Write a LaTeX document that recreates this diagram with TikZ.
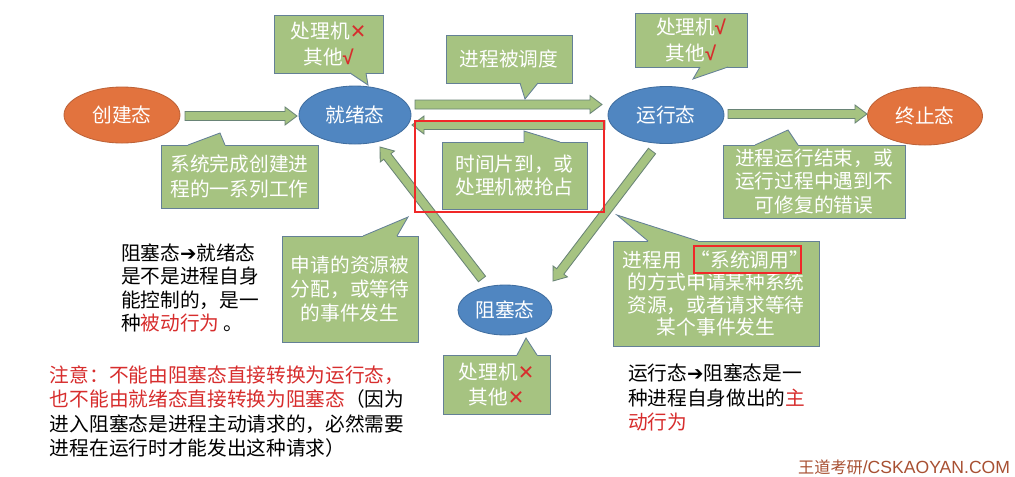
\documentclass[tikz,border=0pt]{standalone}
\usepackage{fontspec}
\setmainfont{Noto Sans CJK SC}
\newfontfamily\dejavu{DejaVu Sans}
\newfontfamily\libsans{Liberation Sans}
\usetikzlibrary{shapes.geometric,calc}
\definecolor{calgreen}{RGB}{166,195,129}
\definecolor{calborder}{RGB}{100,128,150}
\definecolor{arrgreen}{RGB}{166,195,129}
\definecolor{arrborder}{RGB}{105,132,118}
\definecolor{stblue}{RGB}{80,134,193}
\definecolor{stblueb}{RGB}{64,110,160}
\definecolor{storange}{RGB}{226,115,62}
\definecolor{storangeb}{RGB}{190,98,55}
\definecolor{txtred}{RGB}{215,45,45}
\definecolor{boxred}{RGB}{240,40,40}
\definecolor{wmark}{RGB}{168,80,50}
\newcommand\pxu{0.025cm}
\newcommand\txtfont{\fontsize{14pt}{16.8pt}\selectfont}
\newcommand\redx{{\dejavu\color{txtred}✕}}
\newcommand\redv{{\libsans\bfseries\color{txtred}√}}
\newcommand\blockarr[2]{%
  \coordinate (bac) at ($(#2)!12*\pxu!(#1)$);
  \draw[blockarrow] ($(#1)!4.5*\pxu!90:(#2)$) -- ($(bac)!4.5*\pxu!90:(#2)$)
    -- ($(bac)!9*\pxu!90:(#2)$) -- (#2) -- ($(bac)!9*\pxu!-90:(#2)$)
    -- ($(bac)!4.5*\pxu!-90:(#2)$) -- ($(#1)!4.5*\pxu!-90:(#2)$) -- cycle;}
\newcommand\pointer[4]{%
  \fill[calgreen] (#1) -- (#2) -- (#3) -- ($(#3)+(0,#4)$) -- ($(#1)+(0,#4)$) -- cycle;
  \draw[calborder, line width=0.6pt, line join=miter] (#1) -- (#2) -- (#3);}
\begin{document}
\begin{tikzpicture}[x=0.025cm,y=-0.025cm,
  every node/.style={inner sep=0pt, outer sep=0pt, font=\txtfont},
  bluestate/.style={ellipse, draw=stblueb, fill=stblue, line width=0.6pt, text=white},
  orangestate/.style={ellipse, draw=storangeb, fill=storange, line width=0.6pt, text=white},
  callbox/.style={rectangle, fill=calgreen, draw=calborder, line width=0.6pt, text=white, align=center},
  blockarrow/.style={fill=arrgreen, draw=arrborder, line width=0.6pt, line join=miter},
  plaintext/.style={anchor=west, align=left, text=black}]
\fill[white] (0,0) rectangle (1015,476);
\useasboundingbox (0,0) rectangle (1015,476);

% states
\node[orangestate, minimum width=116*\pxu, minimum height=56*\pxu] (cj) at (122,115) {创建态};
\node[bluestate, minimum width=112*\pxu, minimum height=58*\pxu] (jx) at (355,115) {就绪态};
\node[bluestate, minimum width=116*\pxu, minimum height=57*\pxu] (yx) at (666,115) {运行态};
\node[orangestate, minimum width=115*\pxu, minimum height=58*\pxu] (zz) at (925,116) {终止态};
\node[bluestate, minimum width=94*\pxu, minimum height=50*\pxu] (zs) at (505,310) {阻塞态};

% arrow end points
\coordinate (a1s) at ($(cj.east)+(5,1)$);
\coordinate (a1e) at ($(jx.west)+(-2,1)$);
\coordinate (a2s) at ($(jx.east)+(4,-10.5)$);
\coordinate (a2e) at ($(yx.west)+(-6,-10.5)$);
\coordinate (a3s) at ($(yx.west)+(-3,10)$);
\coordinate (a3e) at ($(jx.east)+(1,10)$);
\coordinate (a4s) at ($(yx.east)+(4,-1)$);
\coordinate (a4e) at ($(zz.west)+(-0.5,-2)$);
\coordinate (a5s) at ($(zs.center)+(-23,-31)$);
\coordinate (a5e) at ($(jx.center)+(25,32)$);
\coordinate (a6s) at ($(yx.center)+(-14,36)$);
\coordinate (a6e) at ($(zs.center)+(48,-29)$);

\blockarr{a1s}{a1e}
\blockarr{a2s}{a2e}
\blockarr{a3s}{a3e}
\blockarr{a4s}{a4e}
\blockarr{a5s}{a5e}
\blockarr{a6s}{a6e}

% callouts
\node[callbox, minimum width=109*\pxu, minimum height=58*\pxu, font=\fontsize{14pt}{19pt}\selectfont] (ca) at (328.5,44) {处理机\redx\\其他\redv};
\pointer{350,73}{368,85}{366,73}{-1.5}
\node[callbox, minimum width=126*\pxu, minimum height=48*\pxu] (cb) at (509,59) {进程被调度};
\pointer{520,83}{525,99}{538,83}{-1.5}
\node[callbox, minimum width=112*\pxu, minimum height=54*\pxu, font=\fontsize{14pt}{18.5pt}\selectfont] (cc) at (691,40) {处理机\redv\\其他\redv};
\pointer{700,67}{693,79}{728,67}{-1.5}
\node[callbox, minimum width=145*\pxu, minimum height=67*\pxu] (cd) at (514.5,175.5) {时间片到，或\\处理机被抢占};
\pointer{524,142}{524,131}{560,142}{1.5}
\node[callbox, minimum width=157*\pxu, minimum height=63*\pxu, font=\fontsize{14pt}{18pt}\selectfont] (ce) at (239.5,176.5) {系统完成创建进\\程的一系列工作};
\pointer{188,145}{220,133}{225,145}{1.5}
\node[callbox, minimum width=182*\pxu, minimum height=73*\pxu] (cf) at (814,181.5) {进程运行结束，或\\运行过程中遇到不\\可修复的错误};
\pointer{755,145}{788,130}{798,145}{1.5}
\node[callbox, minimum width=136*\pxu, minimum height=106*\pxu, font=\fontsize{14pt}{17pt}\selectfont] (cg) at (350,289) {申请的资源被\\分配，或等待\\的事件发生};
\pointer{363,236}{408,217}{397,236}{1.5}
\node[callbox, minimum width=107*\pxu, minimum height=59*\pxu, font=\fontsize{14pt}{17.8pt}\selectfont] (ch) at (496.5,384.5) {处理机\redx\\其他\redx};
\pointer{517,355}{526,338}{537,355}{1.5}
\node[callbox, minimum width=206*\pxu, minimum height=105*\pxu, font=\fontsize{14pt}{15.8pt}\selectfont] (ci) at (716,293.5) {进程用\hspace{0.45em}“系统调用”\hspace{0.45em}\\的方式申请某种系统\\资源，或者请求等待\\某个事件发生};
\pointer{648,241}{617,215}{698,241}{1.5}

% red highlight boxes
\draw[boxred, line width=2.1pt] (415,121) rectangle (604,212);
\draw[boxred, line width=1.4pt] (694,246) rectangle (801,273);

% plain texts
\node[plaintext, font=\fontsize{14pt}{16.6pt}\selectfont] (t1) at (121,288) {阻塞态{\dejavu\bfseries ➔}就绪态\\是不是进程自身\\能控制的，是一\\种\textcolor{txtred}{被动行为} 。};
\node[plaintext, font=\fontsize{14pt}{17.3pt}\selectfont] (t2) at (50,411.5) {\textcolor{txtred}{注意：不能由阻塞态直接转换为运行态，}\\\textcolor{txtred}{也不能由就绪态直接转换为阻塞态}（因为\\进入阻塞态是进程主动请求的，必然需要\\进程在运行时才能发出这种请求）};
\node[plaintext, font=\fontsize{14pt}{17.2pt}\selectfont] (t3) at (628,397.5) {运行态{\dejavu\bfseries ➔}阻塞态是一\\种进程自身做出的\textcolor{txtred}{主}\\\textcolor{txtred}{动行为}};

\node[anchor=east, text=wmark] (wm) at (1010,467) {{\fontsize{11.5pt}{12pt}\selectfont 王道考研}{\libsans\fontsize{12.5pt}{13pt}\selectfont /CSKAOYAN.COM}};
\end{tikzpicture}
\end{document}
